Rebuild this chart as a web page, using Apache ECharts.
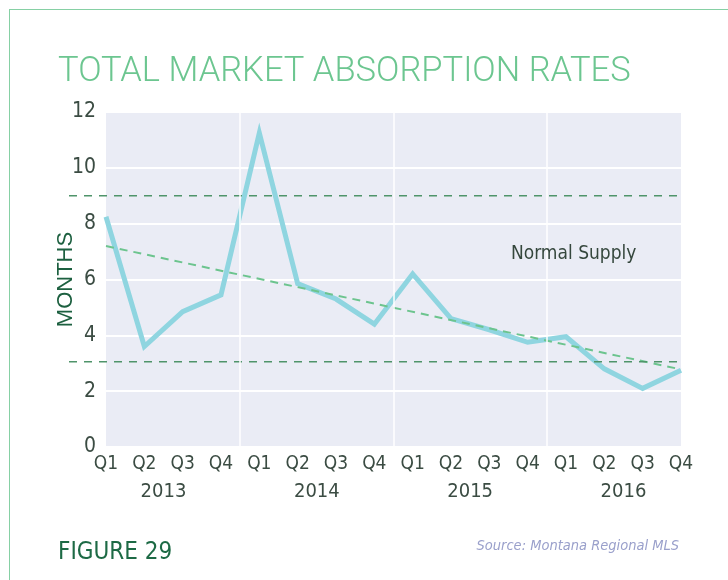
<!DOCTYPE html>
<html>
<head>
<meta charset="utf-8">
<script src="https://cdn.jsdelivr.net/npm/echarts@6/dist/echarts.min.js"></script>
<style>
  html, body { margin: 0; padding: 0; background: #fff; }
  #chart { position: absolute; left: 0; top: 0; width: 728px; height: 580px; }
  #frame { position: absolute; left: 9px; top: 9px; right: -2px; bottom: -2px;
           border-left: 1.5px solid #86d0a4; border-top: 1.5px solid #86d0a4; pointer-events: none; }
</style>
</head>
<body>
<div id="chart"></div>
<div id="frame"></div>
<script>
// ---- data ----
const quarters = ['Q1','Q2','Q3','Q4','Q1','Q2','Q3','Q4','Q1','Q2','Q3','Q4','Q1','Q2','Q3','Q4'];
const years = ['2013', '2014', '2015', '2016'];
const yearCenters = [1.5, 5.5, 9.5, 13.5];
const absorption = [8.25, 3.6, 4.85, 5.45, 11.25, 5.85, 5.3, 4.4, 6.2, 4.6, 4.2, 3.75, 3.95, 2.8, 2.1, 2.75];
const trendStart = 7.2;
const trendEnd = 2.78;
const normalSupplyHigh = 9;
const normalSupplyLow = 3.05;
const yearDividers = [3.5, 7.5, 11.5];
const yTicks = [0, 2, 4, 6, 8, 10, 12];

const labelFont = "'Liberation Sans Narrow', 'Arial Narrow', 'DejaVu Sans Condensed', 'Roboto Condensed', Roboto, sans-serif";
const labelColor = '#3b4c43';

const linePoints = absorption.map((v, i) => [i, v]);
const lastIdx = quarters.length - 1;

const chart = echarts.init(document.getElementById('chart'), null, { renderer: 'canvas' });
chart.setOption({
  animation: false,
  backgroundColor: '#ffffff',
  title: [
    { text: 'TOTAL MARKET ABSORPTION RATES', left: 53, top: 50,
      textStyle: { fontFamily: 'Roboto', fontWeight: 300, fontSize: 34.5, color: '#6cc690' } },
    { text: 'FIGURE 29', left: 53, top: 536,
      textStyle: { fontFamily: labelFont, fontWeight: 'normal', fontSize: 24, color: '#1d6a45' } },
    { text: 'Source: Montana Regional MLS', right: 44, top: 534,
      textStyle: { fontFamily: labelFont, fontStyle: 'italic', fontWeight: 'normal', fontSize: 14.5, color: '#9aa0cb' } }
  ],
  grid: [
    { left: 106, right: 47, top: 112, bottom: 133, show: true, backgroundColor: '#eaecf5', borderWidth: 0 },
    { left: 69, right: 47, top: 112, bottom: 133, show: false }
  ],
  xAxis: [
    { type: 'value', gridIndex: 0, min: 0, max: lastIdx, interval: 1,
      axisLine: { show: false }, axisTick: { show: false }, splitLine: { show: false },
      axisLabel: { formatter: v => quarters[v] || '', fontFamily: labelFont, fontSize: 19, color: labelColor, margin: 8 } },
    { type: 'value', gridIndex: 0, min: 0, max: lastIdx, interval: 0.5, position: 'bottom', offset: 28,
      axisLine: { show: false }, axisTick: { show: false }, splitLine: { show: false },
      axisLabel: { formatter: v => { const k = yearCenters.indexOf(v); return k >= 0 ? years[k] : ''; },
                   fontFamily: labelFont, fontSize: 20, color: labelColor, margin: 7 } },
    { type: 'value', gridIndex: 1, min: 0, max: 1, show: false }
  ],
  yAxis: [
    { type: 'value', gridIndex: 0, min: yTicks[0], max: yTicks[yTicks.length - 1], interval: 2,
      name: 'MONTHS', nameLocation: 'middle', nameGap: 29, nameMoveOverlap: false,
      nameTextStyle: { fontFamily: 'Liberation Sans, Arial, sans-serif', fontSize: 22, color: '#1d6040' },
      axisLine: { show: false }, axisTick: { show: false },
      axisLabel: { fontFamily: labelFont, fontSize: 21, color: labelColor, margin: 10 },
      splitLine: { show: true, lineStyle: { color: '#ffffff', width: 2 } } },
    { type: 'value', gridIndex: 1, min: yTicks[0], max: yTicks[yTicks.length - 1], show: false }
  ],
  series: [
    { name: 'dividers', type: 'line', data: [], z: 1, silent: true,
      markLine: { silent: true, symbol: 'none', label: { show: false },
        lineStyle: { color: '#ffffff', width: 1.5, type: 'solid' },
        data: yearDividers.map(x => ({ xAxis: x })) } },
    { name: 'Absorption', type: 'line', data: linePoints, z: 2, showSymbol: false,
      lineStyle: { color: '#8fd5e0', width: 5, join: 'miter' }, itemStyle: { color: '#8fd5e0' } },
    { name: 'Trend', type: 'line', data: [[0, trendStart], [lastIdx, trendEnd]], z: 3, showSymbol: false,
      lineStyle: { color: '#6cc48e', width: 2, type: [8, 6] } },
    { name: 'Normal Supply High', type: 'line', xAxisIndex: 2, yAxisIndex: 1, z: 4, silent: true, showSymbol: false,
      data: [[0, normalSupplyHigh], [1, normalSupplyHigh]],
      lineStyle: { color: '#4f946a', width: 1.5, type: [8, 7] } },
    { name: 'Normal Supply Low', type: 'line', xAxisIndex: 2, yAxisIndex: 1, z: 4, silent: true, showSymbol: false,
      data: [[0, normalSupplyLow], [1, normalSupplyLow]],
      lineStyle: { color: '#4f946a', width: 1.5, type: [8, 7] } },
    { name: 'Normal Supply Label', type: 'line', data: [], z: 5, silent: true,
      markPoint: { silent: true, symbol: 'circle', symbolSize: 0,
        label: { show: true, position: 'inside', formatter: 'Normal Supply',
                 fontFamily: labelFont, fontSize: 19, color: '#35473d' },
        data: [{ coord: [12.2, 6.92] }] } }
  ]
});
</script>
</body>
</html>
